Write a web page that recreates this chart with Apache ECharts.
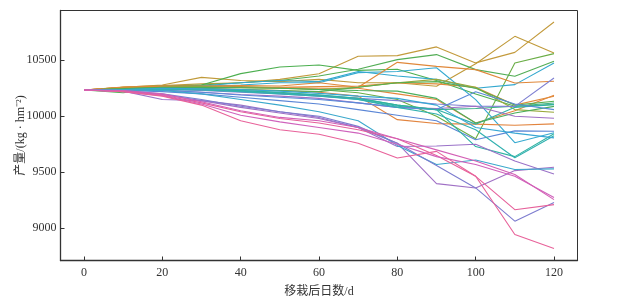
<!DOCTYPE html>
<html>
<head>
<meta charset="utf-8">
<script src="https://cdn.jsdelivr.net/npm/echarts@6/dist/echarts.min.js"></script>
<style>html,body{margin:0;padding:0;background:#fff}#c{width:622px;height:307px}</style>
</head>
<body>
<div id="c"></div>
<script>
const days = [0,10,20,30,40,50,60,70,80,90,100,110,120];
const xTicks = [0,20,40,60,80,100,120];
const yTicks = [9000,9500,10000,10500];

const lineColors = [
 '#c39a3c','#c09a3a','#6aad45','#52ad55','#4caf50','#33a8cf','#36aad0','#e0883a','#e3863c','#e08a3a','#e2843e',
 '#9aa83a','#58ae50','#3ab088','#2fb0a8','#4aae5c','#7f80d2','#a070c5','#5a8ad8','#5b86d6','#2fb3a3','#32b1b0','#38a6d4',
 '#a070c5','#9a72c8','#3aa8cc','#7d7ccf','#e6609a','#cf62bc','#e8629a','#d35fb5'
];

const yields = [
 [10235,10262,10275,10290,10300,10330,10380,10536,10542,10620,10477,10571,10842],
 [10235,10258,10280,10348,10320,10310,10330,10300,10300,10268,10470,10714,10566],
 [10235,10250,10265,10275,10265,10255,10240,10210,10150,10000,9800,10476,10560],
 [10235,10255,10270,10280,10300,10320,10360,10420,10506,10551,10417,10357,10491],
 [10235,10210,10255,10280,10381,10440,10458,10410,10420,10320,10200,10090,10105],
 [10235,10245,10260,10270,10300,10320,10310,10400,10360,10330,10250,10283,10476],
 [10235,10240,10255,10265,10280,10300,10300,10390,10400,10434,10149,9764,9853],
 [10235,10260,10270,10270,10275,10270,10300,10260,10482,10446,10417,10298,10313],
 [10235,10255,10268,10265,10260,10255,10250,10250,10200,10150,9940,10050,10188],
 [10235,10258,10265,10262,10258,10258,10265,10270,10300,10290,10260,10100,10179],
 [10235,10250,10255,10250,10240,10230,10215,10180,9970,9935,9930,9920,9932],
 [10235,10250,10260,10265,10255,10250,10240,10260,10300,10330,10260,10060,10036],
 [10235,10245,10255,10250,10240,10230,10220,10260,10300,10310,10250,10100,10134],
 [10235,10240,10250,10240,10230,10215,10190,10160,10100,10060,10070,10090,10119],
 [10235,10238,10245,10235,10225,10205,10185,10150,10090,10060,9930,10080,10104],
 [10235,10245,10258,10260,10255,10250,10240,10230,10225,10160,9940,10030,10089],
 [10235,10240,10240,10230,10215,10200,10180,10160,10140,10110,10090,10089,10342],
 [10235,10235,10230,10215,10195,10180,10160,10120,10080,10070,10090,10000,9982],
 [10235,10238,10235,10215,10190,10170,10150,10120,10080,10060,10220,10110,10060],
 [10235,10230,10220,10200,10170,10140,10110,10060,10010,9960,9790,9870,9866],
 [10235,10240,10245,10240,10230,10210,10190,10160,10100,10060,9730,9640,9845],
 [10235,10235,10240,10235,10220,10200,10180,10150,10080,10020,9880,9630,9827],
 [10235,10240,10250,10245,10240,10225,10205,10180,10160,10100,9900,9850,9807],
 [10235,10225,10195,10140,10080,10030,9980,9900,9760,9399,9360,9515,9545],
 [10235,10225,10150,10140,10100,10040,9990,9900,9730,9735,9750,9600,9485],
 [10235,10238,10230,10200,10150,10100,10040,9960,9740,9570,9610,9525,9530],
 [10235,10230,10200,10150,10090,10040,10000,9910,9760,9560,9360,9063,9229],
 [10235,10225,10190,10120,10040,9980,9940,9880,9800,9650,9464,9166,9211],
 [10235,10220,10185,10110,10010,9950,9900,9850,9750,9640,9570,9464,9274],
 [10235,10220,10180,10100,9960,9880,9840,9760,9628,9687,9464,8944,8820],
 [10235,10230,10200,10130,10050,9990,9960,9900,9800,9700,9600,9480,9256]
];

const serifFont = '"Liberation Serif","Noto Sans CJK SC",serif';
const chart = echarts.init(document.getElementById('c'), null, {renderer:'canvas'});
chart.setOption({
  animation:false,
  grid:{left:60.5,right:44.5,top:10.5,bottom:46.5,show:true,borderColor:'#333',borderWidth:1,backgroundColor:'transparent',outerBoundsMode:'none',containLabel:false},
  xAxis:{
    type:'value',min:-6,max:126,
    name:'移栽后日数/d',nameLocation:'middle',nameGap:25,nameMoveOverlap:false,
    nameTextStyle:{fontFamily:serifFont,fontSize:12,color:'#333'},
    axisLine:{show:true,onZero:false,lineStyle:{color:'#333',width:1.3}},
    axisTick:{show:true,inside:true,length:4,customValues:xTicks,lineStyle:{color:'#333'}},
    axisLabel:{customValues:xTicks,formatter:v=>String(v),fontFamily:serifFont,fontSize:12,color:'#333',margin:6},
    splitLine:{show:false}
  },
  yAxis:{
    type:'value',min:8712,max:10945,
    name:'产量/(kg · hm⁻²)',nameLocation:'middle',nameGap:34,nameRotate:90,nameMoveOverlap:false,
    nameTextStyle:{fontFamily:serifFont,fontSize:12,color:'#333'},
    axisLine:{show:true,onZero:false,lineStyle:{color:'#333',width:1.3}},
    axisTick:{show:true,inside:true,length:4,customValues:yTicks,lineStyle:{color:'#333'}},
    axisLabel:{customValues:yTicks,formatter:v=>String(v),fontFamily:serifFont,fontSize:12,color:'#333',margin:4},
    splitLine:{show:false}
  },
  series: yields.map((vals,i)=>({
    type:'line',
    data: days.map((d,j)=>[d,vals[j]]),
    showSymbol:false,symbol:'none',
    lineStyle:{width:1.1,color:lineColors[i % lineColors.length]},
    itemStyle:{color:lineColors[i % lineColors.length]},
    silent:true
  }))
});
</script>
</body>
</html>
